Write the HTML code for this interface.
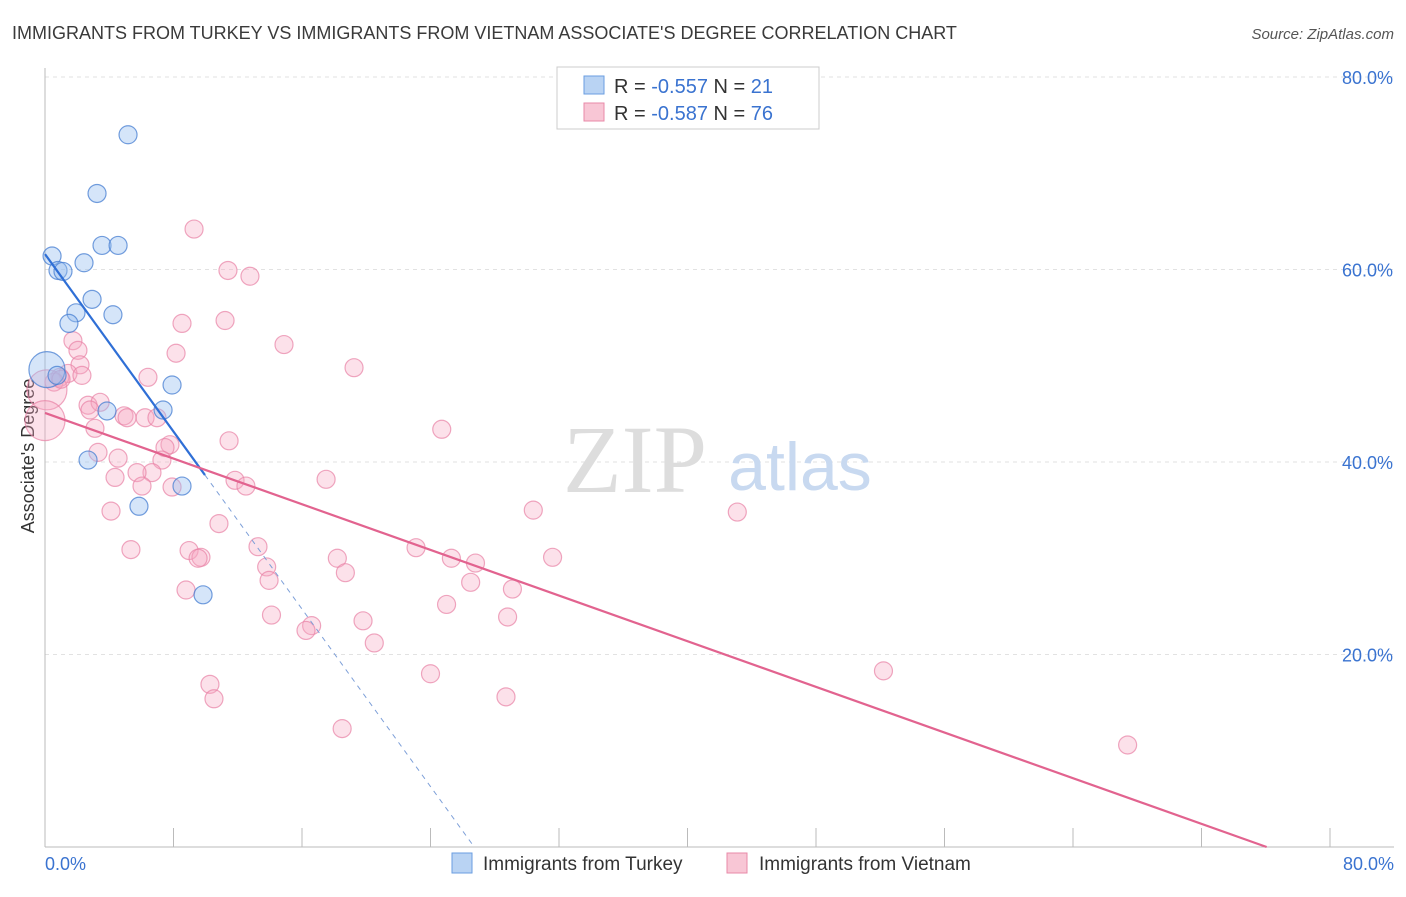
<!DOCTYPE html>
<html><head><meta charset="utf-8"><style>
body{margin:0;background:#fff;font-family:"Liberation Sans",sans-serif}
</style></head><body>
<svg width="1406" height="892" xmlns="http://www.w3.org/2000/svg">
<text x="12" y="39" font-size="18" fill="#3a3a3a">IMMIGRANTS FROM TURKEY VS IMMIGRANTS FROM VIETNAM ASSOCIATE'S DEGREE CORRELATION CHART</text>
<text x="1394" y="39" font-size="15" fill="#555" font-style="italic" text-anchor="end">Source: ZipAtlas.com</text>
<g id="grid"></g>
<line x1="45" y1="68" x2="45" y2="847" stroke="#bbb"/>
<line x1="45" y1="847" x2="1394" y2="847" stroke="#bbb"/>
<text x="635" y="492" font-size="96" fill="#ddd" font-family="Liberation Serif,serif" text-anchor="middle">ZIP</text>
<text x="800" y="490" font-size="68" fill="#c8d9f0" text-anchor="middle">atlas</text>
<text transform="translate(34,456) rotate(-90)" font-size="18" fill="#333" text-anchor="middle">Associate's Degree</text>
<g id="pts"></g><g id="lines"></g>
<g>
<rect x="557" y="67" width="262" height="62" fill="#fff" stroke="#ccc"/>
<rect x="584" y="76" width="20" height="18" fill="#b9d3f3" stroke="#6a9ee0"/>
<rect x="584" y="103" width="20" height="18" fill="#f8c6d5" stroke="#e889a8"/>
<text x="614" y="93" font-size="20" fill="#333">R = <tspan fill="#3a73d0">-0.557</tspan>   N = <tspan fill="#3a73d0">21</tspan></text>
<text x="614" y="120" font-size="20" fill="#333">R = <tspan fill="#3a73d0">-0.587</tspan>   N = <tspan fill="#3a73d0">76</tspan></text>
</g>
<text x="45" y="870" font-size="18" fill="#3a73d0">0.0%</text>
<text x="1394" y="870" font-size="18" fill="#3a73d0" text-anchor="end">80.0%</text>
<g>
<rect x="452" y="853" width="20" height="20" fill="#b9d3f3" stroke="#6a9ee0"/>
<text x="483" y="870" font-size="19" fill="#333">Immigrants from Turkey</text>
<rect x="727" y="853" width="20" height="20" fill="#f8c6d5" stroke="#e889a8"/>
<text x="759" y="870" font-size="19" fill="#333">Immigrants from Vietnam</text>
</g>
</svg>
<script>
const yTicks=[20,40,60,80];
const xTickCount=10;
const turkeyX=[5.17,3.24,3.55,4.55,0.44,2.43,0.81,1.12,2.93,1.93,4.23,1.49,0.12,7.91,3.86,7.35,2.68,8.53,5.85,9.84,0.75];
const turkeyY=[74.0,67.9,62.5,62.5,61.4,60.7,59.9,59.8,56.9,55.5,55.3,54.4,49.6,48.0,45.3,45.4,40.2,37.5,35.4,26.2,49.0];
const turkeyR=[9,9,9,9,9,9,9,9,9,9,9,9,18,9,9,9,9,9,9,9,9];
const vietX=[9.28,11.39,12.76,8.53,11.21,14.88,1.74,2.05,8.16,19.24,2.18,1.43,0.93,0.56,6.41,0.12,0,2.68,3.43,2.80,4.92,5.11,6.23,6.97,3.11,24.7,11.46,7.78,7.47,3.30,4.55,7.28,6.66,5.73,4.36,11.83,17.5,12.51,6.04,7.91,4.11,30.4,43.1,10.83,13.26,5.35,8.97,23.1,9.71,9.53,31.6,18.2,25.3,26.8,13.8,18.7,13.95,26.5,29.1,8.78,25.0,14.1,28.8,19.8,16.6,16.25,20.5,52.2,24.0,10.27,10.52,28.7,18.5,67.4,1.0,2.3];
const vietY=[64.2,59.9,59.3,54.4,54.7,52.2,52.6,51.6,51.3,49.8,50.1,49.2,48.8,48.3,48.8,47.5,44.3,45.9,46.2,45.4,44.8,44.6,44.6,44.6,43.5,43.4,42.2,41.8,41.5,41.0,40.4,40.2,38.9,38.9,38.4,38.1,38.2,37.5,37.5,37.4,34.9,35.0,34.8,33.6,31.2,30.9,30.8,31.1,30.1,30.0,30.1,30.0,30.0,29.5,29.1,28.5,27.7,27.5,26.8,26.7,25.2,24.1,23.9,23.5,23.0,22.5,21.2,18.3,18.0,16.9,15.4,15.6,12.3,10.6,48.6,49.0];
const turkeyTrend=[61.6,-2.305];
const vietTrend=[45.1,-0.593];
const X0=45,X1=1330,Y0=847,Y1=77;
const sx=v=>X0+(v/80)*(X1-X0), sy=v=>Y0-(v/80)*(Y0-Y1);
const NS="http://www.w3.org/2000/svg";
function mk(t,a,p){const e=document.createElementNS(NS,t);for(const k in a)e.setAttribute(k,a[k]);p.appendChild(e);return e;}
const grid=document.getElementById('grid');
yTicks.forEach(t=>{
 const l=mk('line',{x1:45,x2:1394,y1:sy(t),y2:sy(t),stroke:'#e2e2e2','stroke-dasharray':'4,4'},grid);
 
 
 const tx=mk('text',{x:1393,y:sy(t)+7,'font-size':18,fill:'#3a73d0','text-anchor':'end'},grid);
 tx.textContent=t.toFixed(1)+'%';
 
 
});
for(let i=1;i<=xTickCount;i++){
 const l=mk('line',{x1:sx(i*8),x2:sx(i*8),y1:828,y2:847,stroke:'#bbb'},grid);
 
 
}
const pts=document.getElementById('pts');
vietX.forEach((x,i)=>{
 const r=(x<0.2)?20:9;
 const c=mk('circle',{cx:sx(x),cy:sy(vietY[i]),r:r,fill:'rgba(246,170,195,0.35)',stroke:'rgba(232,130,165,0.7)','stroke-width':1.2},pts);
 
 
});
turkeyX.forEach((x,i)=>{
 const c=mk('circle',{cx:sx(x),cy:sy(turkeyY[i]),r:turkeyR[i],fill:'rgba(150,190,240,0.4)',stroke:'rgba(70,125,210,0.75)','stroke-width':1.2},pts);
 
 
});
const ln=document.getElementById('lines');
const tEnd=-turkeyTrend[0]/turkeyTrend[1];
const a=mk('line',{x1:sx(0),y1:sy(turkeyTrend[0]),x2:sx(9.96),y2:sy(turkeyTrend[0]+turkeyTrend[1]*9.96),stroke:'#2f6fd6','stroke-width':2.2},ln);


const b=mk('line',{x1:sx(9.96),y1:sy(turkeyTrend[0]+turkeyTrend[1]*9.96),x2:sx(tEnd),y2:sy(0),stroke:'#7d9fd8','stroke-width':1,'stroke-dasharray':'5,5'},ln);


const vEnd=-vietTrend[0]/vietTrend[1];
const c=mk('line',{x1:sx(0),y1:sy(vietTrend[0]),x2:sx(vEnd),y2:sy(0),stroke:'#e2638f','stroke-width':2.2},ln);


</script>
</body></html>
